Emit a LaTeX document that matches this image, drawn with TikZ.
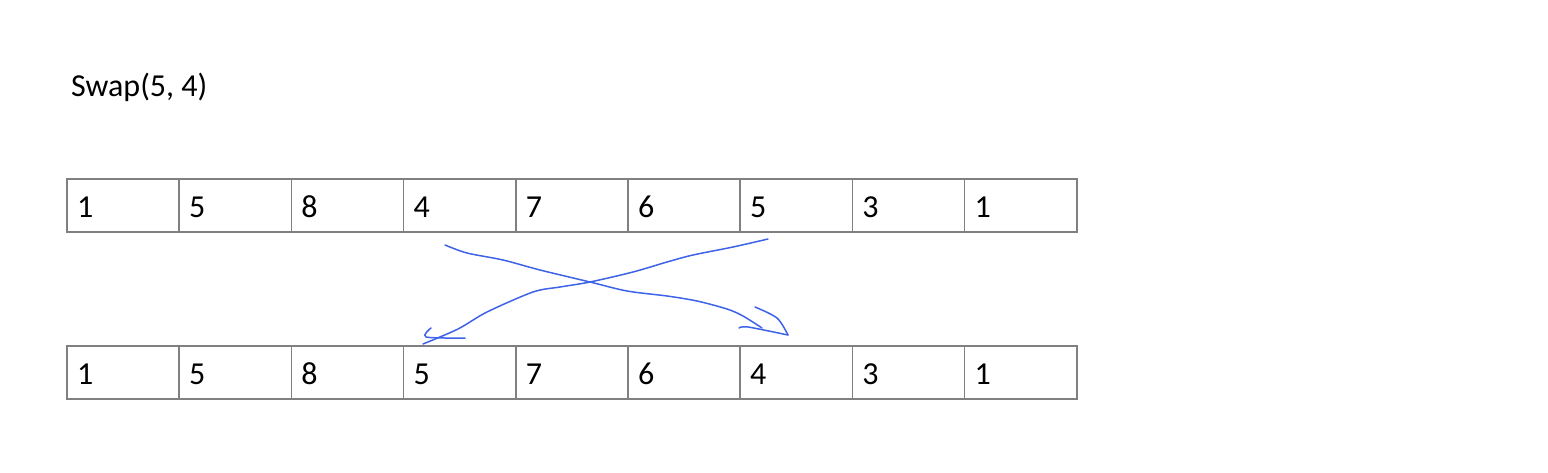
\documentclass[tikz,border=0pt]{standalone}
\usepackage{fontspec}
\setmainfont{Carlito}
\definecolor{ink}{RGB}{62,98,232}
\definecolor{grid}{RGB}{128,128,128}
\tikzset{
  cell/.style={draw=grid, line width=1.6pt, minimum height=53pt, text width=92.2pt, text height=26pt, text depth=2pt, inner xsep=10pt, inner ysep=0pt, align=left, font=\fontsize{32}{37}\selectfont, anchor=north west, outer sep=0pt},
  stroke/.style={draw=ink, line width=1.5pt, line cap=round, line join=round}
}
\begin{document}
\begin{tikzpicture}[x=1pt,y=-1pt]
\useasboundingbox (0,0) rectangle (1548,472);
\node[anchor=base west, inner sep=0pt, font=\fontsize{32}{37}\selectfont] (title) at (71,96) {Swap(5, 4)};
\foreach \v [count=\i] in {1,5,8,4,7,6,5,3,1} {
  \node[cell] (t\i) at ({67+112.2*(\i-1)},179) {\v};
}
\foreach \v [count=\i] in {1,5,8,5,7,6,4,3,1} {
  \node[cell] (b\i) at ({67+112.2*(\i-1)},346) {\v};
}
% stroke from 4 (top) to bottom position 7
\draw[stroke] plot[smooth, tension=0.5] coordinates {(445,245) (467,253) (503,260) (540,270) (590,282) (627,291) (667,296) (697,301) (727,309) (743,316) (762,328)};
\draw[stroke] plot[smooth, tension=0.5] coordinates {(755,307) (777,318) (788,335)};
\draw[stroke] plot[smooth, tension=0.5] coordinates {(739,328) (748,327) (788,335)};
% stroke from 5 (top) to bottom position 4
\draw[stroke] plot[smooth, tension=0.5] coordinates {(768,239) (733,247) (693,255) (667,262) (633,272) (590,282) (560,287) (533,292) (487,312) (458,329) (423,344)};
\draw[stroke] plot[smooth, tension=0.5] coordinates {(431,328) (426,337) (465,338)};
\end{tikzpicture}
\end{document}
